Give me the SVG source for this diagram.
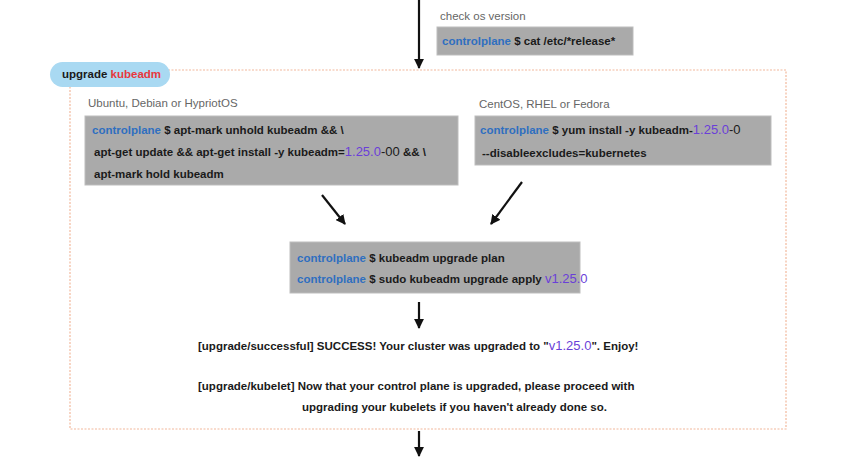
<svg xmlns="http://www.w3.org/2000/svg" width="851" height="461" viewBox="0 0 851 461">
<defs>
<marker id="ah" viewBox="0 0 10 10" refX="9" refY="5" markerWidth="4.5" markerHeight="4.5" orient="auto" markerUnits="strokeWidth">
<path d="M0,0 L10,5 L0,10 z" fill="#111"/>
</marker>
<style>
.t{font-family:"Liberation Sans",Arial,sans-serif;font-size:11.5px;font-weight:bold;fill:#1a1a1a}
.g{font-family:"Liberation Sans",Arial,sans-serif;font-size:11.5px;fill:#666}
.cp{fill:#2f6fc0}
.v{font-weight:normal;font-size:13px;fill:#6a3fd8}
.box{fill:#aaaaaa;stroke:#bdbdbd;stroke-width:1}
.c{stroke:#111;stroke-width:2.2;fill:none;marker-end:url(#ah)}
</style>
</defs>
<rect width="851" height="461" fill="#fff"/>
<g id="frame">
<rect x="70" y="70" width="716" height="359" fill="none" stroke="#f2b89c" stroke-width="1.2" stroke-dasharray="2,1.5"/>
</g>
<g id="pill">
<rect x="50" y="62" width="120" height="25" rx="12.5" fill="#a9d9f2"/>
<text class="t" x="62" y="78">upgrade <tspan fill="#e8383d">kubeadm</tspan></text>
</g>
<g id="check">
<text class="g" x="440" y="20">check os version</text>
<rect class="box" x="437" y="27" width="196" height="28"/>
<text class="t" x="442" y="45"><tspan class="cp">controlplane</tspan> $ cat /etc/*release*</text>
</g>
<g id="ubuntu">
<text class="g" x="88" y="107">Ubuntu, Debian or HypriotOS</text>
<rect class="box" x="85" y="116" width="373" height="69"/>
<text class="t" x="92" y="134"><tspan class="cp">controlplane</tspan> $ apt-mark unhold kubeadm &amp;&amp; \</text>
<text class="t" x="94" y="156">apt-get update &amp;&amp; apt-get install -y kubeadm=<tspan class="v">1.25.0</tspan><tspan font-weight="normal" font-size="13">-00</tspan> &amp;&amp; \</text>
<text class="t" x="94" y="178">apt-mark hold kubeadm</text>
</g>
<g id="centos">
<text class="g" x="479" y="108">CentOS, RHEL or Fedora</text>
<rect class="box" x="475" y="116" width="296" height="49"/>
<text class="t" x="480" y="134"><tspan class="cp">controlplane</tspan> $ yum install -y kubeadm-<tspan class="v">1.25.0</tspan><tspan font-weight="normal" font-size="13">-0</tspan></text>
<text class="t" x="482" y="157">--disableexcludes=kubernetes</text>
</g>
<g id="plan">
<rect class="box" x="290" y="242" width="290" height="51"/>
<text class="t" x="297" y="262"><tspan class="cp">controlplane</tspan> $ kubeadm upgrade plan</text>
<text class="t" x="297" y="283"><tspan class="cp">controlplane</tspan> $ sudo kubeadm upgrade apply <tspan class="v">v1.25.0</tspan></text>
</g>
<g id="success">
<text class="t" x="198" y="350">[upgrade/successful] SUCCESS! Your cluster was upgraded to "<tspan class="v">v1.25.0</tspan>". Enjoy!</text>
</g>
<g id="kubelet">
<text class="t" x="198" y="390">[upgrade/kubelet] Now that your control plane is upgraded, please proceed with</text>
<text class="t" x="302" y="411">upgrading your kubelets if you haven't already done so.</text>
</g>
<g id="connectors">
<line class="c" x1="419" y1="0" x2="419" y2="68"/>
<line class="c" x1="322" y1="195" x2="345" y2="224"/>
<line class="c" x1="522" y1="182" x2="491" y2="224"/>
<line class="c" x1="419" y1="302" x2="419" y2="328"/>
<line class="c" x1="419" y1="431" x2="419" y2="456"/>
</g>
</svg>
